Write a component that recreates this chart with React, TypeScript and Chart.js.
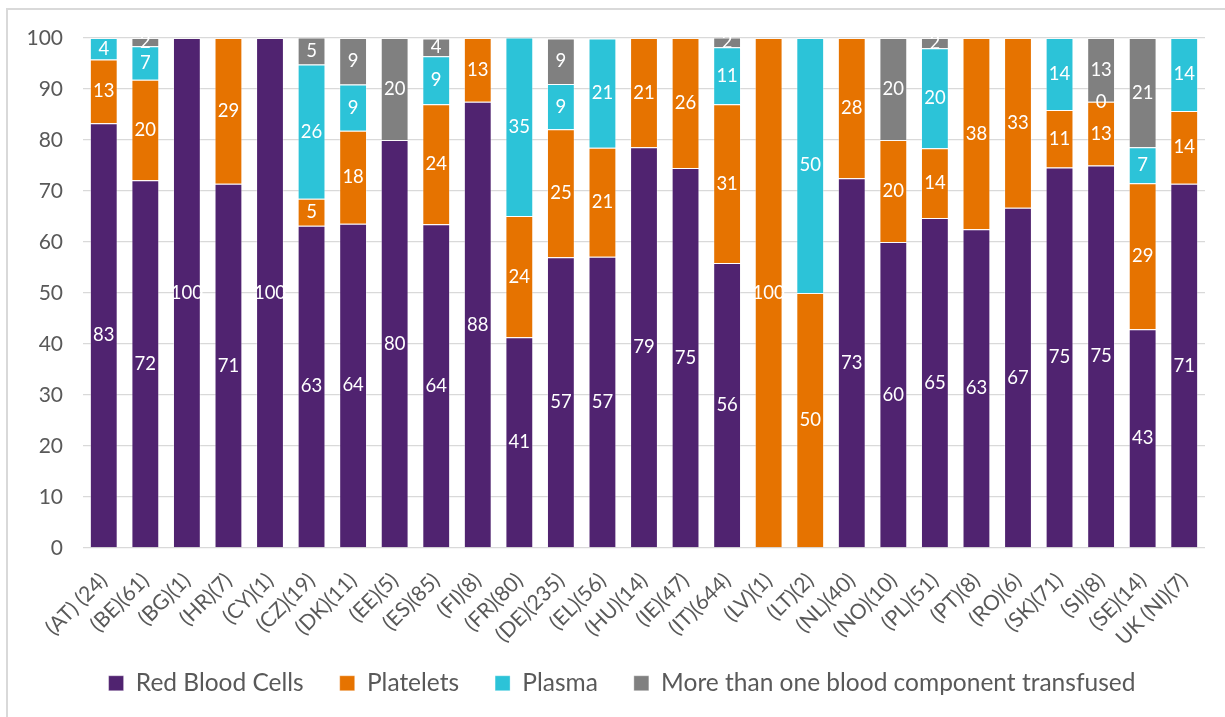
import React, { useEffect, useRef } from "react";
import { Chart, registerables } from "chart.js";

Chart.register(...registerables);

const categories = [
  "(AT) (24)", "(BE)(61)", "(BG)(1)", "(HR)(7)", "(CY)(1)", "(CZ)(19)", "(DK)(11)",
  "(EE)(5)", "(ES)(85)", "(FI)(8)", "(FR)(80)", "(DE)(235)", "(EL)(56)", "(HU)(14)",
  "(IE)(47)", "(IT)(644)", "(LV)(1)", "(LT)(2)", "(NL)(40)", "(NO)(10)", "(PL)(51)",
  "(PT)(8)", "(RO)(6)", "(SK)(71)", "(SI)(8)", "(SE)(14)", "UK (NI)(7)",
];

const redBloodCells = [83.3, 72.1, 100, 71.4, 100, 63.2, 63.6, 80, 63.5, 87.5, 41.3, 57.0, 57.1, 78.6, 74.5, 55.9, null, null, 72.5, 60, 64.7, 62.5, 66.7, 74.6, 75, 42.9, 71.4];
const platelets = [12.5, 19.7, null, 28.6, null, 5.3, 18.2, null, 23.5, 12.5, 23.8, 25.1, 21.4, 21.4, 25.5, 31.1, 100, 50, 27.5, 20, 13.7, 37.5, 33.3, 11.3, 12.5, 28.6, 14.3];
const plasma = [4.2, 6.6, null, null, null, 26.3, 9.1, null, 9.4, null, 35, 8.9, 21.4, null, null, 11.2, null, 50, null, null, 19.6, null, null, 14.1, 0, 7.1, 14.3];
const moreThanOne = [null, 1.6, null, null, null, 5.3, 9.1, 20, 3.5, null, null, 8.9, null, null, null, 1.9, null, null, null, 20, 2.0, null, null, null, 12.5, 21.4, null];

const yTicks = [0, 10, 20, 30, 40, 50, 60, 70, 80, 90, 100];

const FONT = "Lato, 'Noto Sans', sans-serif";

const dataLabelPlugin = {
  id: "dataLabels",
  afterDatasetsDraw(chart: any) {
    const ctx = chart.ctx;
    ctx.save();
    ctx.fillStyle = "#FFFFFF";
    ctx.font = `18.5px ${FONT}`;
    ctx.textAlign = "center";
    ctx.textBaseline = "middle";
    chart.data.datasets.forEach((ds: any, di: number) => {
      const meta = chart.getDatasetMeta(di);
      if (meta.hidden) return;
      meta.data.forEach((el: any, i: number) => {
        const v = ds.data[i];
        if (v === null || v === undefined) return;
        const props = el.getProps(["x", "y", "base"], true);
        const y = (props.y + props.base) / 2;
        ctx.fillText(String(Math.round(v)), props.x, y);
      });
    });
    ctx.restore();
  },
};

const legendPlacePlugin = {
  id: "legendPlace",
  afterLayout(chart: any) {
    const lg = chart.legend;
    if (!lg) return;
    const h = lg.height;
    lg.left = 39;
    lg.top = 635;
    lg.bottom = 635 + h;
  },
};

export default function App() {
  const ref = useRef<HTMLCanvasElement | null>(null);

  useEffect(() => {
    if (!ref.current) return;
    const mk = (label: string, data: any[], color: string) => ({
      label,
      data,
      backgroundColor: color,
      borderColor: "rgba(255,255,255,0.35)",
      borderWidth: 1,
      barPercentage: 0.67,
      categoryPercentage: 1,
    });
    const chart = new Chart(ref.current, {
      type: "bar",
      data: {
        labels: categories,
        datasets: [
          mk("Red Blood Cells", redBloodCells, "#502370"),
          mk("Platelets", platelets, "#E67300"),
          mk("Plasma", plasma, "#2CC3D8"),
          mk("More than one blood component transfused", moreThanOne, "#808080"),
        ],
      },
      options: {
        responsive: false,
        animation: false,
        layout: { padding: { top: 38, right: 20, left: 0, bottom: 0 } },
        plugins: {
          tooltip: { enabled: false },
          legend: {
            position: "bottom",
            labels: {
              color: "#595959",
              font: { family: FONT, size: 24.5 },
              boxWidth: 15,
              boxHeight: 15,
              padding: 36,
            },
          },
        },
        scales: {
          x: {
            stacked: true,
            grid: { display: false },
            border: { display: false },
            ticks: {
              color: "#595959",
              font: { family: FONT, size: 21 },
              autoSkip: false,
              maxRotation: 45,
              minRotation: 45,
              padding: 12,
            },
            afterFit(scale: any) {
              scale.height = 98.5;
            },
          },
          y: {
            stacked: true,
            min: 0,
            max: 100,
            afterBuildTicks(scale: any) {
              scale.ticks = yTicks.map((v) => ({ value: v }));
            },
            grid: { color: "#D9D9D9", lineWidth: 1.3, drawTicks: false },
            border: { display: false },
            ticks: {
              color: "#595959",
              font: { family: FONT, size: 21 },
              padding: 20,
            },
            afterFit(scale: any) {
              scale.width = 83;
            },
          },
        },
      },
      plugins: [dataLabelPlugin, legendPlacePlugin],
    });
    return () => chart.destroy();
  }, []);

  return (
    <div style={{ position: "fixed", left: 0, top: 0, width: 1225, height: 717, background: "#fff" }}>
      <div
        style={{
          position: "absolute",
          left: 6,
          top: 8,
          width: 1300,
          height: 800,
          borderTop: "2px solid #D9D9D9",
          borderLeft: "2px solid #D9D9D9",
        }}
      />
      <canvas ref={ref} width={1225} height={717} style={{ position: "absolute", left: 0, top: 0 }} />
    </div>
  );
}
